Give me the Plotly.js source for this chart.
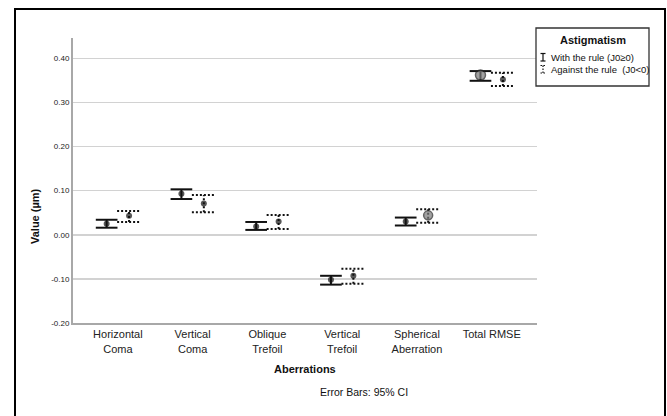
<!DOCTYPE html>
<html><head><meta charset="utf-8">
<script src="https://cdn.plot.ly/plotly-3.0.1.min.js"></script>
<style>html,body{margin:0;padding:0;background:#fff}</style>
</head><body><div id="chart" style="width:667px;height:416px"></div>
<script>
// ---- data ----
const categories = ["Horizontal<br>Coma", "Vertical<br>Coma", "Oblique<br>Trefoil", "Vertical<br>Trefoil", "Spherical<br>Aberration", "Total RMSE"];
const withMean   = [0.025, 0.093, 0.019, -0.102, 0.030, 0.362];
const withLow    = [0.016, 0.081, 0.011, -0.113, 0.021, 0.349];
const withHigh   = [0.034, 0.103, 0.029, -0.093, 0.039, 0.371];
const againstMean = [0.043, 0.071, 0.030, -0.093, 0.044, 0.352];
const againstLow  = [0.029, 0.051, 0.013, -0.111, 0.027, 0.337];
const againstHigh = [0.054, 0.090, 0.045, -0.077, 0.058, 0.367];
const yTickVals = [-0.2, -0.1, 0, 0.1, 0.2, 0.3, 0.4];
const yTickText = ["-0.20", "-0.10", "0.00", "0.10", "0.20", "0.30", "0.40"];
const seriesNames = ["With the rule (J0\u22650)", "Against the rule\u00a0\u00a0(J0<0)"];
const legendTitle = "Astigmatism";
const xTitle = "Aberrations";
const yTitle = "Value (\u00b5m)";
const footnote = "Error Bars: 95% CI";

// ---- layout geometry ----
const W = 667, H = 416;
const M = {l: 73, r: 130, t: 38, b: 93};
const pw = W - M.l - M.r, ph = H - M.t - M.b;
const P = x => (x - M.l) / pw;      // pixel -> paper x
const Q = y => (H - M.b - y) / ph;  // pixel -> paper y
const FONT = "Liberation Sans, Arial, sans-serif";
const idx = categories.map((_, i) => i);

function barTrace(mean, lo, hi, off, half, dash, width) {
  const x = [], y = [];
  idx.forEach(i => {
    const c = i + off;
    x.push(c, c, null, c - half, c + half, null, c - half, c + half, null);
    y.push(lo[i], hi[i], null, hi[i], hi[i], null, lo[i], lo[i], null);
  });
  return {x, y, type: 'scatter', mode: 'lines', showlegend: false, hoverinfo: 'skip',
          line: {color: '#111', width: width, dash: dash}};
}
const offW = -0.15, offA = 0.15;
const traces = [
  barTrace(withMean, withLow, withHigh, offW, 0.145, 'solid', 2),
  barTrace(againstMean, againstLow, againstHigh, offA, 0.16, '2px,2px', 2),
  {x: idx.map(i => i + offW), y: withMean, type: 'scatter', mode: 'markers', showlegend: false,
   marker: {symbol: 'circle', size: idx.map(i => i === 5 ? 10 : 6),
            color: idx.map(i => i === 5 ? '#7a7a7a' : '#111'),
            line: {color: '#222', width: idx.map(i => i === 5 ? 1.5 : 0)}}},
  {x: idx.map(i => i + offA), y: againstMean, type: 'scatter', mode: 'markers', showlegend: false,
   marker: {symbol: 'circle', size: idx.map(i => i === 4 ? 9 : 6),
            color: idx.map(i => i === 4 ? '#7a7a7a' : '#111'),
            line: {color: '#222', width: idx.map(i => i === 4 ? 1.5 : 0)}}}
];

const shapes = [
  // outer frame
  {type: 'rect', xref: 'paper', yref: 'paper', x0: P(15), x1: P(665), y0: Q(430), y1: Q(9),
   line: {color: '#000', width: 2}, fillcolor: 'rgba(0,0,0,0)', layer: 'above'},
  // legend box
  {type: 'rect', xref: 'paper', yref: 'paper', x0: P(536), x1: P(649), y0: Q(86), y1: Q(28),
   line: {color: '#333', width: 1.3}, fillcolor: '#fff', layer: 'above'},
  // legend icon: with (solid)
  {type: 'line', xref: 'paper', yref: 'paper', x0: P(543), x1: P(543), y0: Q(61), y1: Q(53.5), line: {color: '#111', width: 1.2}, layer: 'above'},
  {type: 'line', xref: 'paper', yref: 'paper', x0: P(540.5), x1: P(545.5), y0: Q(53.5), y1: Q(53.5), line: {color: '#111', width: 1.2}, layer: 'above'},
  {type: 'line', xref: 'paper', yref: 'paper', x0: P(540.5), x1: P(545.5), y0: Q(61), y1: Q(61), line: {color: '#111', width: 1.2}, layer: 'above'},
  // legend icon: against (dotted)
  {type: 'line', xref: 'paper', yref: 'paper', x0: P(543), x1: P(543), y0: Q(73), y1: Q(65.5), line: {color: '#111', width: 1.2, dash: '1.5px,1.5px'}, layer: 'above'},
  {type: 'line', xref: 'paper', yref: 'paper', x0: P(540.5), x1: P(545.5), y0: Q(65.5), y1: Q(65.5), line: {color: '#111', width: 1.2, dash: '1.5px,1.5px'}, layer: 'above'},
  {type: 'line', xref: 'paper', yref: 'paper', x0: P(540.5), x1: P(545.5), y0: Q(73), y1: Q(73), line: {color: '#111', width: 1.2, dash: '1.5px,1.5px'}, layer: 'above'}
];

const ann = (text, x, y, size, extra) => Object.assign({
  text, xref: 'paper', yref: 'paper', x: P(x), y: Q(y), showarrow: false,
  xanchor: 'center', yanchor: 'middle', font: {family: FONT, size, color: '#111'}
}, extra || {});
const annotations = [
  ann('<b>' + yTitle + '</b>', 35, 216, 11, {textangle: -90}),
  ann('<b>' + xTitle + '</b>', 305, 369, 11),
  ann(footnote, 363.5, 391.5, 10.5),
  ann('<b>' + legendTitle + '</b>', 593, 40, 11),
  ann(seriesNames[0], 549, 57.3, 9.5, {xanchor: 'left'}),
  ann(seriesNames[1], 549, 69.3, 9.5, {xanchor: 'left'})
];

const layout = {
  width: W, height: H, margin: M, paper_bgcolor: '#fff', plot_bgcolor: '#fff',
  font: {family: FONT, color: '#111'}, showlegend: false,
  xaxis: {type: 'linear', range: [-0.6, 5.606], tickmode: 'array', tickvals: idx, ticktext: categories,
          showgrid: false, zeroline: false, showline: true, linecolor: '#a8a8a8', linewidth: 2,
          ticks: '', tickfont: {family: FONT, size: 11, color: '#222'}, fixedrange: true},
  yaxis: {range: [-0.2, 0.446], tickmode: 'array', tickvals: yTickVals, ticktext: yTickText,
          showgrid: true, gridcolor: '#d2d2d2', gridwidth: 1.5, zeroline: false,
          showline: true, linecolor: '#a8a8a8', linewidth: 2, ticks: '',
          tickfont: {family: FONT, size: 8, color: '#222'}, fixedrange: true},
  shapes, annotations
};
Plotly.newPlot('chart', traces, layout, {staticPlot: true, displayModeBar: false});
</script></body></html>
